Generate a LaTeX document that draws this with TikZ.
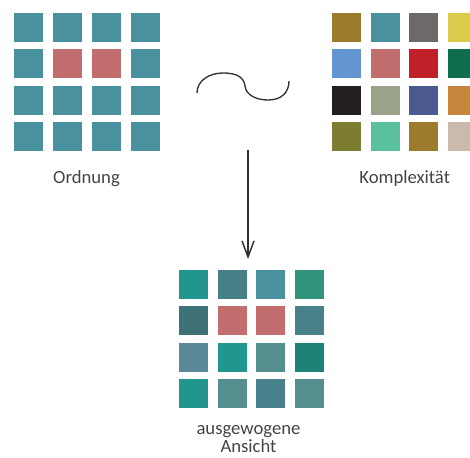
\documentclass[tikz,border=0pt]{standalone}
\usepackage{fontspec}
\setmainfont{Carlito}
\usetikzlibrary{arrows.meta}

% colours of the tiles
\definecolor{tealA}{HTML}{4A919F}
\definecolor{rose}{HTML}{C36E6E}
\definecolor{ochre}{HTML}{9C7A2E}
\definecolor{stone}{HTML}{6E6869}
\definecolor{lemon}{HTML}{DCCA4B}
\definecolor{sky}{HTML}{6396D0}
\definecolor{signal}{HTML}{C02027}
\definecolor{forest}{HTML}{0E6C4F}
\definecolor{coal}{HTML}{231F20}
\definecolor{sage}{HTML}{9AA38A}
\definecolor{navy}{HTML}{4A5A90}
\definecolor{amber}{HTML}{C5863A}
\definecolor{olive}{HTML}{7D7D31}
\definecolor{mint}{HTML}{59C29C}
\definecolor{beige}{HTML}{CAB9AC}
\definecolor{tealB}{HTML}{21968E}
\definecolor{tealC}{HTML}{477F87}
\definecolor{tealD}{HTML}{30937B}
\definecolor{tealE}{HTML}{3F7276}
\definecolor{tealF}{HTML}{488189}
\definecolor{tealG}{HTML}{5B8898}
\definecolor{tealH}{HTML}{548E8E}
\definecolor{tealI}{HTML}{1D8378}
\definecolor{tealJ}{HTML}{47828C}
\definecolor{textgray}{HTML}{444444}
\definecolor{linegray}{HTML}{303030}

\tikzset{
  tile/.style={rectangle,inner sep=0pt,minimum size=21.75pt},
  caption/.style={text=textgray,font=\fontsize{14}{14}\selectfont,anchor=base,inner sep=0pt},
  wave/.style={draw=linegray,line width=1pt},
  flow/.style={draw=linegray,line width=1.1pt,-{Straight Barb[length=12pt,width=9pt]}}
}

\begin{document}
\begin{tikzpicture}[x=0.75pt,y=-0.75pt]
    \clip (0,0) rectangle (470,457);

    % Ordnung
    \foreach \c [count=\i from 0] in {tealA,tealA,tealA,tealA,
                                      tealA,rose,rose,tealA,
                                      tealA,tealA,tealA,tealA,
                                      tealA,tealA,tealA,tealA} {
      \pgfmathtruncatemacro\col{mod(\i,4)}
      \pgfmathtruncatemacro\row{div(\i,4)}
      \node[tile,fill=\c] (ord-\i) at ({28.5+39*\col},{27.5+36.3*\row}) {};
    }
    \node[caption] (ordlabel) at (86.5,183.3) {Ordnung};

    % Komplexitaet
    \foreach \c [count=\i from 0] in {ochre,tealA,stone,lemon,
                                      sky,rose,signal,forest,
                                      coal,sage,navy,amber,
                                      olive,mint,ochre,beige} {
      \pgfmathtruncatemacro\col{mod(\i,4)}
      \pgfmathtruncatemacro\row{div(\i,4)}
      \node[tile,fill=\c] (kom-\i) at ({346.5+38.7*\col},{27.5+36.3*\row}) {};
    }
    \node[caption] (komlabel) at (404.7,183.3) {Komplexität};

    % tilde between both
    \draw[wave] (197,93) .. controls (197,80) and (210,73) .. (223,73)
                .. controls (238,73) and (244,78) .. (245,86)
                .. controls (246,96) and (258,100) .. (268,100)
                .. controls (282,100) and (289,92) .. (289,81);

    % arrow down
    \coordinate (flowtop) at (248,150);
    \coordinate (flowtip) at (248,259);
    \draw[flow] (flowtop) -- (flowtip);

    % ausgewogene Ansicht
    \foreach \c [count=\i from 0] in {tealB,tealC,tealA,tealD,
                                      tealE,rose,rose,tealF,
                                      tealG,tealB,tealH,tealI,
                                      tealB,tealH,tealJ,tealH} {
      \pgfmathtruncatemacro\col{mod(\i,4)}
      \pgfmathtruncatemacro\row{div(\i,4)}
      \node[tile,fill=\c] (bal-\i) at ({193.5+38.7*\col},{284.5+36.3*\row}) {};
    }
    \node[caption] (ballabel) at (248.5,434.5) {ausgewogene};
    \node[caption] (ballabel2) at (248.5,452.8) {Ansicht};
\end{tikzpicture}
\end{document}
